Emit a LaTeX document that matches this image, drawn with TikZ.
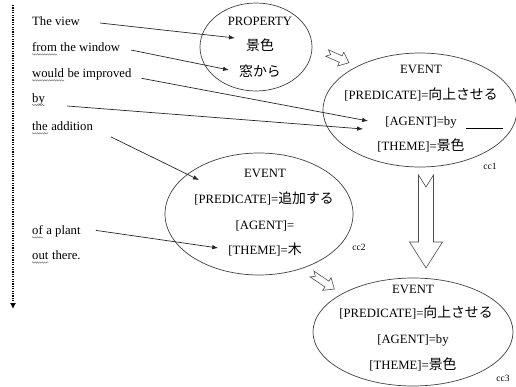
\documentclass[tikz,border=0pt]{standalone}
\usepackage{fontspec}
\setmainfont{Liberation Serif}
\newfontfamily\jp[Scale=1.09]{Noto Sans CJK JP}
\usetikzlibrary{arrows.meta,shapes.geometric,calc,decorations.pathmorphing}

\tikzset{
  txt/.style={inner sep=0pt, font=\fontsize{12.7}{14}\selectfont},
  lefttxt/.style={txt, anchor=west},
  resttxt/.style={txt, anchor=base west},
  tag/.style={inner sep=0pt, font=\fontsize{9.5}{11}\selectfont},
  frame/.style={draw=black!75, line width=0.7pt, ellipse, inner sep=0pt},
  link/.style={draw=black!85, line width=0.7pt, -{Latex[length=6pt,width=4.5pt]}},
  squiggle/.style={draw=black!55, line width=0.45pt, decorate,
    decoration={snake, amplitude=0.7pt, segment length=2.4pt}},
  pics/blockarrow/.style n args={5}{code={
    % length, shaft half-width, head half-width, head length, notch depth
    \draw[draw=black!70, line width=0.6pt, fill=white]
      (0,#2) -- ({#1-#4},#2) -- ({#1-#4},#3) -- (#1,0) -- ({#1-#4},-#3)
      -- ({#1-#4},-#2) -- (0,-#2) -- (#5,0) -- cycle;
  }}
}
\newcommand\wavyunder[1]{\draw[squiggle] ($(#1.base west)+(0,3)$) -- ($(#1.base east)+(0,3)$);}

\begin{document}
\begin{tikzpicture}[x=1pt, y=-1pt]
\useasboundingbox (0,0) rectangle (516,387);

% time axis on the left
\draw[line width=1.7pt, dash pattern=on 1.3pt off 1.1pt, -{Latex[length=6pt,width=6pt]}]
  (13,5) -- (13,309);

% sentence fragments (flagged words set apart so they can be underlined)
\node[lefttxt] (t1) at (32,21) {The view};
\node[lefttxt] (w2) at (32,47) {from};
\node[resttxt] (t2) at (w2.base east) {\hspace{0.25em}the window};
\node[lefttxt] (w3) at (32,73) {would};
\node[resttxt] (t3) at (w3.base east) {\hspace{0.25em}be improved};
\node[lefttxt] (t4) at (32,99) {by};
\node[lefttxt] (w5) at (32,126) {the};
\node[resttxt] (t5) at (w5.base east) {\hspace{0.25em}addition};
\node[lefttxt] (w6) at (32,230) {of};
\node[resttxt] (t6) at (w6.base east) {\hspace{0.25em}a plant};
\node[lefttxt] (w7) at (32,256) {out};
\node[resttxt] (t7) at (w7.base east) {\hspace{0.25em}there.};
\wavyunder{w2}
\wavyunder{w3}
\wavyunder{t4}
\wavyunder{w5}
\wavyunder{w6}
\wavyunder{w7}

% PROPERTY frame
\node[frame, minimum width=112pt, minimum height=88pt] (e0) at (256,47) {};
\node[txt] (p1) at (260,21) {PROPERTY};
\node[txt] (p2) at (260,45) {\jp 景色};
\node[txt] (p3) at (260,71) {\jp 窓から};

% EVENT cc1
\node[frame, minimum width=194pt, minimum height=114pt] (e1) at (420,110) {};
\node[txt] (c1e) at (421,69) {EVENT};
\node[txt] (c1p) at (421,95) {[PREDICATE]={\jp 向上させる}};
\node[txt] (c1a) at (421,122) {[AGENT]=by};
\node[txt] (c1t) at (421,146) {[THEME]={\jp 景色}};
\node[tag] (l1) at (490,166) {cc1};
\draw[line width=0.6pt] ($(c1a.east)+(9,6)$) -- ($(c1a.east)+(46,6)$);

% EVENT cc2
\node[frame, minimum width=188pt, minimum height=122pt] (e2) at (259,214) {};
\node[txt] (c2e) at (265,173) {EVENT};
\node[txt] (c2p) at (264,199) {[PREDICATE]={\jp 追加する}};
\node[txt] (c2a) at (265,226) {[AGENT]=};
\node[txt] (c2t) at (265,250) {[THEME]={\jp 木}};
\node[tag] (l2) at (359,247) {cc2};

% EVENT cc3
\node[frame, minimum width=200pt, minimum height=108pt] (e3) at (413,332) {};
\node[txt] (c3e) at (413,289) {EVENT};
\node[txt] (c3p) at (416,313) {[PREDICATE]={\jp 向上させる}};
\node[txt] (c3a) at (413,340) {[AGENT]=by};
\node[txt] (c3t) at (413,365) {[THEME]={\jp 景色}};
\node[tag] (l3) at (503,378) {cc3};

% links from words to slots
\draw[link] ($(t1.east)+(20,2)$) -- ($(p2.west)+(-11,-7)$);
\draw[link] ($(t2.east)+(11,3)$) -- ($(p3.west)+(-10,-1)$);
\draw[link] ($(t3.east)+(10,4)$) -- ($(c1a.west)+(-17,-1)$);
\draw[link] ($(t4.east)+(22,7)$) -- ($(c1a.west)+(-22,7)$);
\draw[link] ($(t5.east)+(18,11)$) -- ($(c2e.west)+(-45,7)$);
\draw[link] ($(t6.east)+(15,-1)$) -- ($(c2t.west)+(-10,-2)$);

% composition arrows
\pic[rotate=-24] at (327,53) {blockarrow={24}{3.5}{7.5}{9}{4}};
\pic[rotate=-34] at (312,274) {blockarrow={27}{3.5}{7.5}{9}{4}};
\pic[rotate=-90] at (426,175) {blockarrow={93}{7.5}{16.5}{26}{12}};
\end{tikzpicture}
\end{document}
